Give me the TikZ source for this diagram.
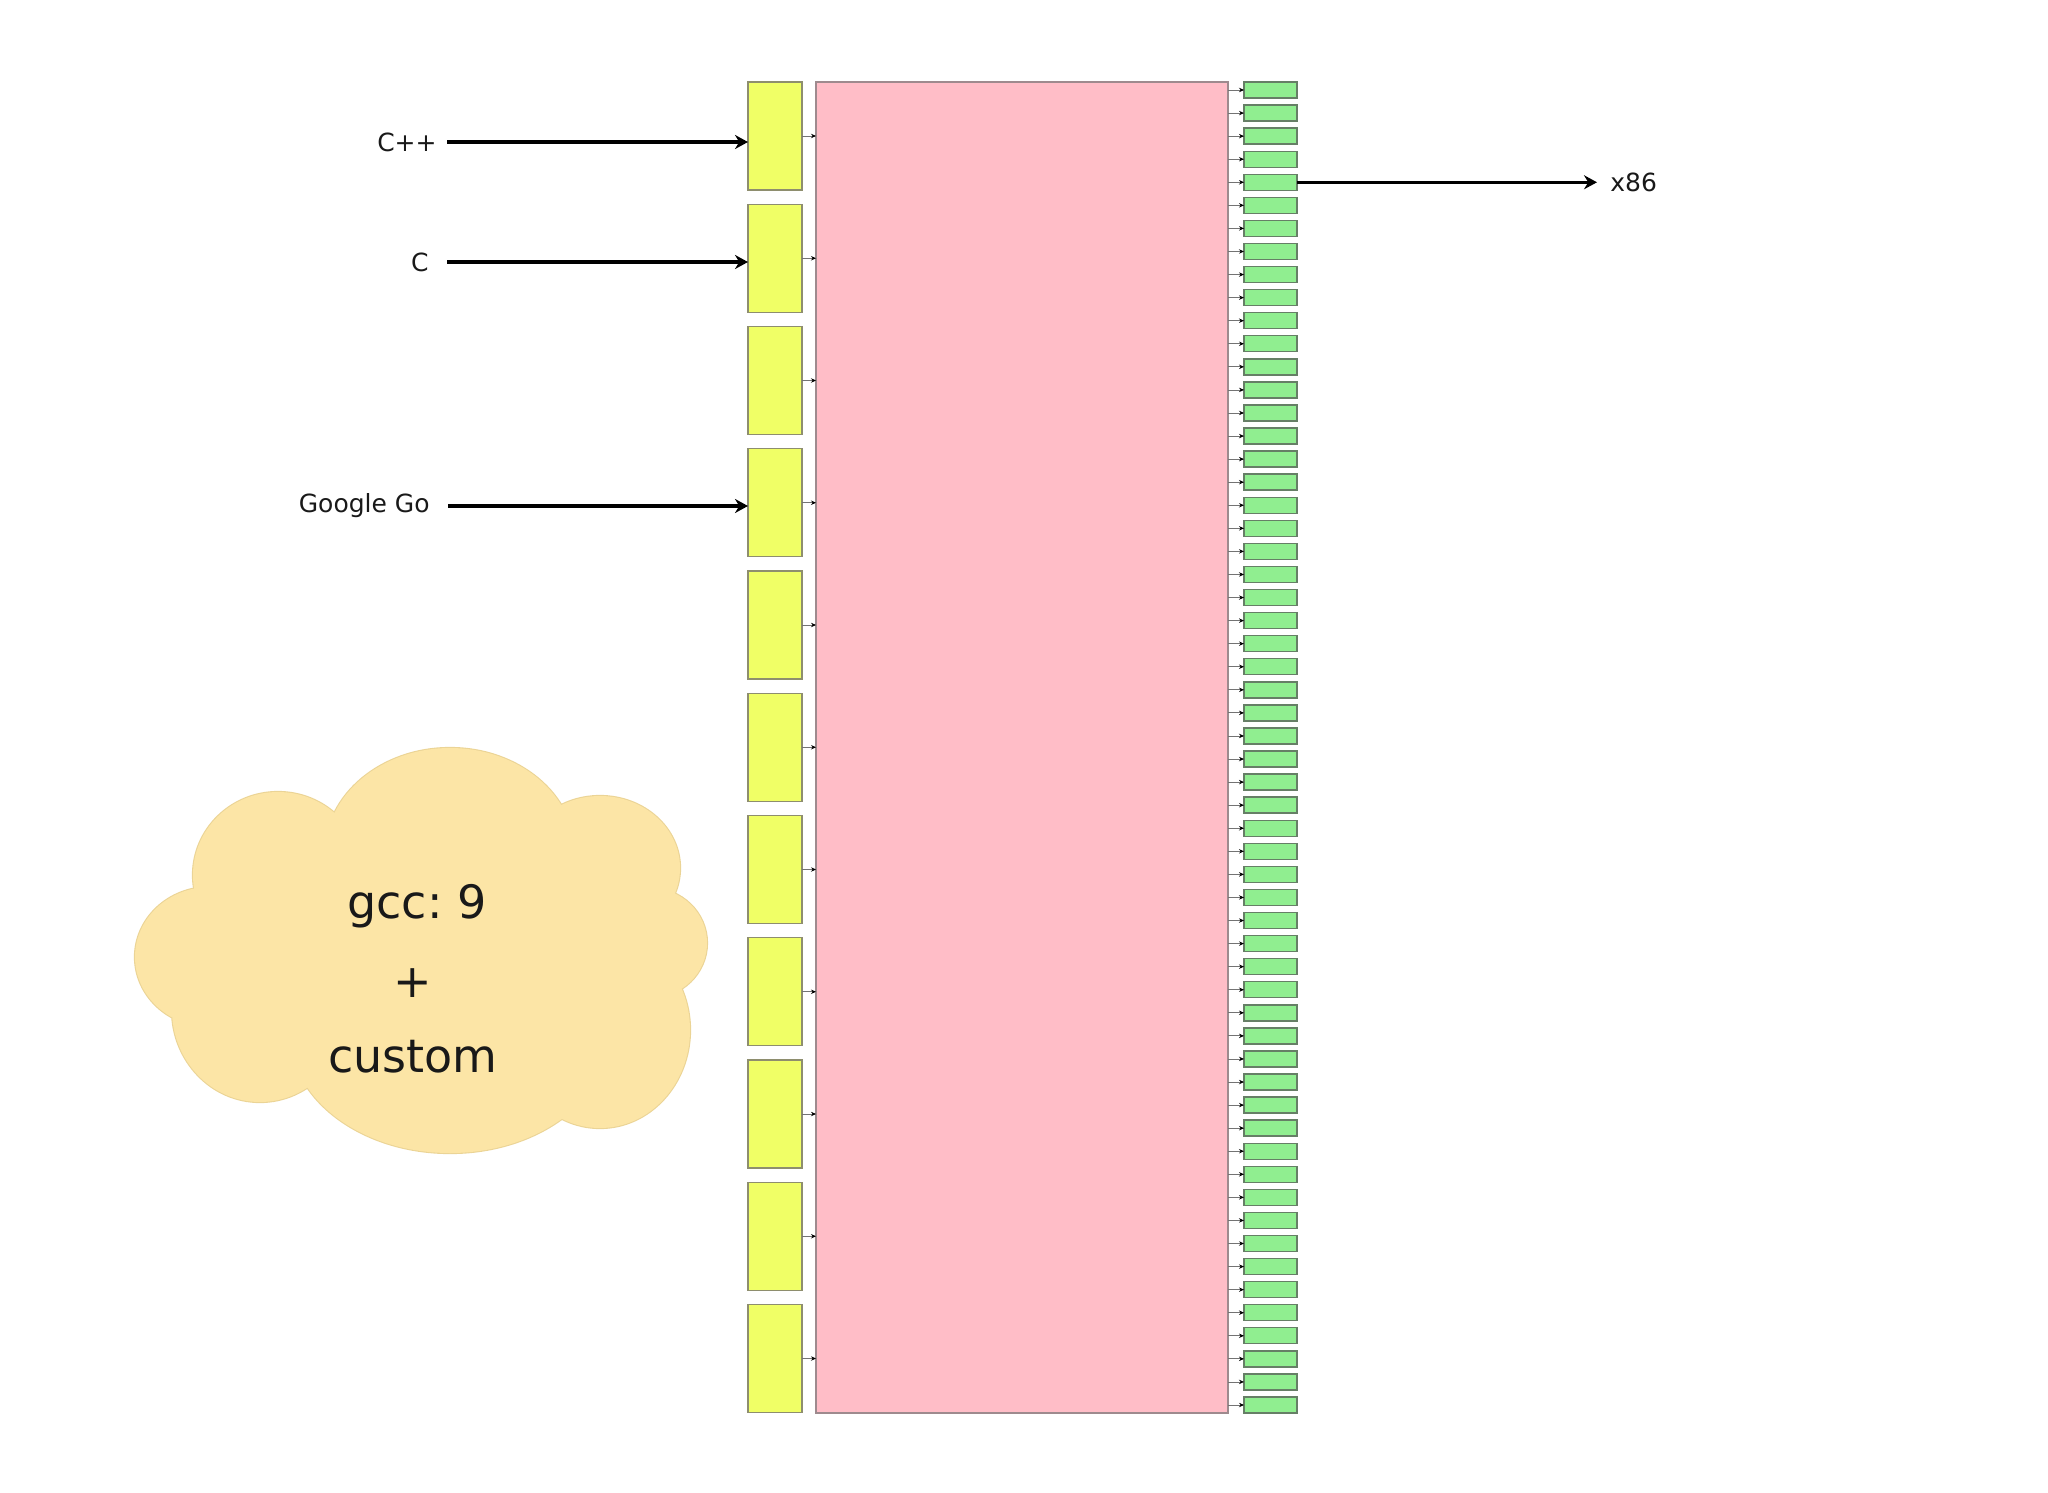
\documentclass[tikz,border=0pt]{standalone}
\usepackage{fontspec}
\setmainfont{DejaVu Sans}
\usetikzlibrary{arrows.meta}
\definecolor{ylw}{HTML}{F0FF66}
\definecolor{ylwedge}{HTML}{8E8E6E}
\definecolor{pnk}{HTML}{FFBDC7}
\definecolor{pnkedge}{HTML}{9E8A8E}
\definecolor{grn}{HTML}{90EE90}
\definecolor{grnedge}{HTML}{667F66}
\definecolor{cloudfill}{HTML}{FCE5A6}
\definecolor{cloudedge}{HTML}{EBD496}
\frenchspacing
\begin{document}
\begin{tikzpicture}[x=0.5pt,y=-0.5pt,
  ybox/.style={draw=ylwedge, fill=ylw, line width=0.7pt, minimum width=27pt, minimum height=54pt, inner sep=0pt, outer sep=0pt},
  gbox/.style={draw=grnedge, fill=grn, line width=0.7pt, minimum width=26.5pt, minimum height=8pt, inner sep=0pt, outer sep=0pt},
  pbox/.style={draw=pnkedge, fill=pnk, line width=0.7pt, minimum width=206pt, minimum height=665.5pt, inner sep=0pt, outer sep=0pt},
  lbl/.style={font=\fontsize{12.5pt}{15pt}\selectfont, inner sep=0pt, text=black!90},
  cloudtxt/.style={font=\fontsize{23pt}{28pt}\selectfont, inner sep=0pt, anchor=base, text=black!90},
  bigarrow/.style={line width=1.6pt, -{Stealth[length=6.5pt,width=7pt]}},
  tinyarrow/.style={line width=0.4pt, draw=black!55, -{Stealth[length=2.5pt,width=2.2pt,black]}}
]
\useasboundingbox (0,0) rectangle (2048,1492);

% cloud
\def\cloudshapes{
  (450,853) ellipse [x radius=125, y radius=105]
  (278,875) ellipse [x radius=85, y radius=83]
  (600,868) ellipse [x radius=80, y radius=72]
  (650,943) ellipse [x radius=57, y radius=55]
  (600,1030) ellipse [x radius=90, y radius=98]
  (450,1033) ellipse [x radius=160, y radius=120]
  (260,1010) ellipse [x radius=88, y radius=92]
  (210,957) ellipse [x radius=75, y radius=70]
  (430,960) ellipse [x radius=200, y radius=130]
}
\draw[cloudedge, line width=1.1pt] \cloudshapes;
\fill[cloudfill] \cloudshapes;
\node[cloudtxt] (t1) at (417,918) {gcc: 9};
\node[cloudtxt] (t2) at (413,997) {+};
\node[cloudtxt] (t3) at (413,1072) {custom};

% central block
\node[pbox] (core) at (1022,747.5) {};

\foreach \i in {0,...,10}{
  \node[ybox] (y\i) at (775,{136+122.25*\i}) {};
  \draw[tinyarrow] (y\i.east) -- (y\i.east -| core.west);
}
\foreach \i in {0,...,57}{
  \node[gbox] (g\i) at (1270.5,{90+23.07*\i}) {};
  \draw[tinyarrow] (g\i.west -| core.east) -- (g\i.west);
}

% labels and arrows
\node[lbl, anchor=east] (cpp) at (437,142) {C++};
\node[lbl, anchor=east] (c) at (429,262) {C};
\node[lbl, anchor=east] (go) at (430,506) {Google Go};
\node[lbl, anchor=west] (x86) at (1610,182) {x86};

\draw[bigarrow, shorten <=5pt] (cpp.east) -- (cpp.east -| y0.west);
\draw[bigarrow, shorten <=9pt] (c.east) -- (c.east -| y1.west);
\draw[bigarrow, shorten <=9pt] (go.east) -- (go.east -| y3.west);
\draw[bigarrow, shorten >=6.5pt] (g4.east) -- (g4.east -| x86.west);
\end{tikzpicture}
\end{document}
